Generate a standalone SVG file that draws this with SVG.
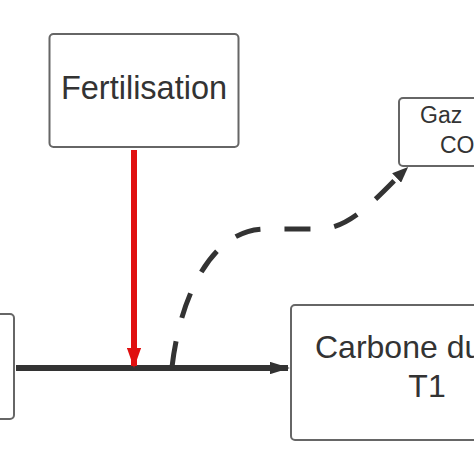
<svg xmlns="http://www.w3.org/2000/svg" width="474" height="474" viewBox="0 0 474 474">
<style>
.box{fill:#fff;stroke:#666;stroke-width:2}
.t{font-family:"Liberation Sans",Arial,sans-serif;fill:#333}
</style>
<defs>
<marker id="ab" viewBox="0 0 10 10" refX="9" refY="5" markerWidth="3.4" markerHeight="2.1" orient="auto" markerUnits="strokeWidth" preserveAspectRatio="none"><path d="M0,0 L10,5 L0,10 Z" fill="#333"/></marker>
<marker id="ar" viewBox="0 0 10 10" refX="9" refY="5" markerWidth="3.4" markerHeight="2.4" orient="auto" markerUnits="strokeWidth" preserveAspectRatio="none"><path d="M0,0 L10,5 L0,10 Z" fill="#e01010"/></marker>
<marker id="ad" viewBox="0 0 10 10" refX="9" refY="5" markerWidth="3.2" markerHeight="2.6" orient="auto" markerUnits="strokeWidth" preserveAspectRatio="none"><path d="M0,0 L10,5 L0,10 Z" fill="#333"/></marker>
</defs>
<rect width="474" height="474" fill="#fff"/>
<g id="node-left"><rect class="box" x="-100" y="314" width="114" height="105" rx="4"/></g>
<g id="node-fertilisation"><rect class="box" x="49.5" y="34" width="189" height="113" rx="4"/><text class="t" x="144" y="98.5" font-size="32.5" text-anchor="middle">Fertilisation</text></g>
<g id="node-gaz"><rect class="box" x="399" y="98" width="200" height="68" rx="4"/><text class="t" x="420" y="123" font-size="23">Gaz</text><text class="t" x="440" y="153" font-size="23">CO</text></g>
<g id="node-carbone"><rect class="box" x="291" y="305" width="272" height="135" rx="4"/><text class="t" x="315" y="358" font-size="32">Carbone du</text><text class="t" x="427" y="397" font-size="32" text-anchor="middle">T1</text></g>
<g id="connectors">
<path d="M16,368 L288,368" stroke="#333" stroke-width="6" fill="none" marker-end="url(#ab)"/>
<path d="M134,150 L134,366" stroke="#e01010" stroke-width="6" fill="none" marker-end="url(#ar)"/>
<path d="M172,367 C181,290 215,229 265,229 L320,229 C352,229 382,192 407,168" stroke="#333" stroke-width="5" fill="none" stroke-dasharray="26 24" marker-end="url(#ad)"/>
</g>
</svg>
